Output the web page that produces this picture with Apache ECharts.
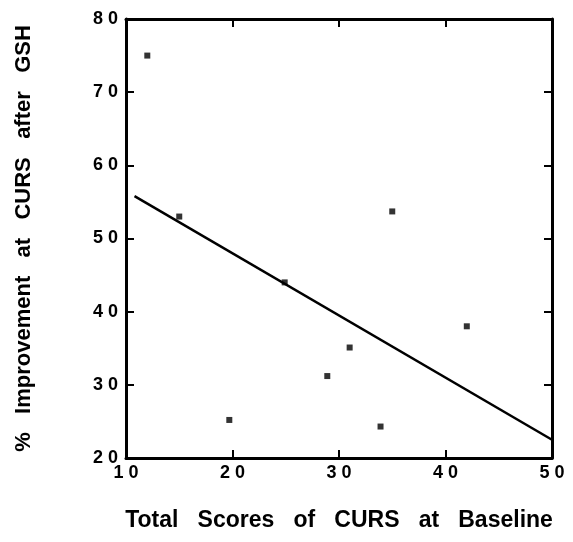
<!DOCTYPE html>
<html>
<head>
<meta charset="utf-8">
<script src="https://cdn.jsdelivr.net/npm/echarts@6/dist/echarts.min.js"></script>
<style>
  html, body { margin: 0; padding: 0; background: #fff; }
  #chart-container { width: 573px; height: 542px; }
</style>
</head>
<body>
<div id="chart-container"></div>
<script>
// baseline CURS score vs % improvement after GSH
var baselineScores = [12, 15, 19.7, 24.9, 28.9, 31, 33.9, 35, 42];
var improvement = [75, 53, 25.2, 44, 31.2, 35.1, 24.3, 53.7, 38];
// regression line, read at its two ends
var fitX = [10.8, 50];
var fitY = [55.8, 22.5];

var dom = document.getElementById('chart-container');
var myChart = echarts.init(dom, null, { renderer: 'canvas' });

var points = baselineScores.map(function (x, i) { return [x, improvement[i]]; });
var fitLine = fitX.map(function (x, i) { return [x, fitY[i]]; });

function spaced(v) {
  return String(v).split('').join(' ');
}

var labelFont = {
  color: '#000',
  fontFamily: 'Liberation Sans',
  fontWeight: 'bold',
  fontSize: 18
};
var frameLine = { show: true, onZero: false, lineStyle: { color: '#000', width: 3 } };
var innerTick = { show: true, inside: true, length: 8, lineStyle: { color: '#000', width: 2 } };

var option = {
  backgroundColor: '#fff',
  animation: false,
  grid: { left: 126, right: 21, top: 19, bottom: 84 },
  xAxis: [
    {
      type: 'value',
      min: 10,
      max: 50,
      interval: 10,
      name: 'Total   Scores   of   CURS   at   Baseline',
      nameLocation: 'middle',
      nameGap: 51,
      nameTextStyle: {
        color: '#000',
        fontFamily: 'Liberation Sans',
        fontWeight: 'bold',
        fontSize: 23
      },
      axisLine: frameLine,
      axisTick: innerTick,
      splitLine: { show: false },
      axisLabel: Object.assign({ margin: 6, formatter: spaced }, labelFont)
    },
    {
      type: 'value',
      position: 'top',
      min: 10,
      max: 50,
      interval: 10,
      axisLine: frameLine,
      axisTick: innerTick,
      splitLine: { show: false },
      axisLabel: { show: false }
    }
  ],
  yAxis: [
    {
      type: 'value',
      min: 20,
      max: 80,
      interval: 10,
      name: '%   Improvement   at   CURS   after   GSH',
      nameLocation: 'middle',
      nameGap: 91,
      nameTextStyle: {
        color: '#000',
        fontFamily: 'Liberation Sans',
        fontWeight: 'bold',
        fontSize: 22
      },
      axisLine: frameLine,
      axisTick: innerTick,
      splitLine: { show: false },
      axisLabel: Object.assign({ margin: 8, formatter: spaced }, labelFont)
    },
    {
      type: 'value',
      position: 'right',
      min: 20,
      max: 80,
      interval: 10,
      axisLine: frameLine,
      axisTick: innerTick,
      splitLine: { show: false },
      axisLabel: { show: false }
    }
  ],
  series: [
    {
      name: 'Patients',
      type: 'scatter',
      symbol: 'rect',
      symbolSize: 6,
      itemStyle: { color: '#000' },
      data: points
    },
    {
      name: 'Fit',
      type: 'line',
      showSymbol: false,
      lineStyle: { color: '#000', width: 2.5 },
      data: fitLine
    }
  ]
};

myChart.setOption(option);
window.addEventListener('resize', myChart.resize);
</script>
</body>
</html>
